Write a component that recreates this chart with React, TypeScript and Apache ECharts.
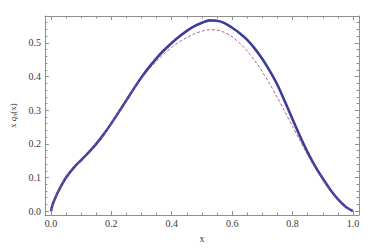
import React, { useEffect, useRef } from "react";
import * as echarts from "echarts";

const xs = [0, 0.005, 0.01, 0.025, 0.05, 0.075, 0.1, 0.125, 0.15, 0.175, 0.2, 0.225, 0.25, 0.275, 0.3, 0.325, 0.35, 0.375, 0.4, 0.425, 0.45, 0.475, 0.5, 0.525, 0.55, 0.575, 0.6, 0.625, 0.65, 0.675, 0.7, 0.725, 0.75, 0.775, 0.8, 0.825, 0.85, 0.875, 0.9, 0.925, 0.95, 0.975, 1.0];
const solidValues = [0, 0.018, 0.03, 0.06, 0.1, 0.129, 0.152, 0.175, 0.2, 0.229, 0.261, 0.295, 0.33, 0.365, 0.398, 0.428, 0.455, 0.479, 0.5, 0.519, 0.536, 0.55, 0.56, 0.567, 0.566, 0.559, 0.545, 0.529, 0.509, 0.483, 0.452, 0.416, 0.375, 0.325, 0.273, 0.222, 0.175, 0.133, 0.097, 0.064, 0.036, 0.014, 0];
const dashedValues = [0, 0.019, 0.031, 0.061, 0.102, 0.131, 0.154, 0.176, 0.201, 0.229, 0.261, 0.295, 0.33, 0.364, 0.395, 0.422, 0.446, 0.468, 0.487, 0.503, 0.516, 0.527, 0.535, 0.539, 0.538, 0.531, 0.518, 0.499, 0.476, 0.447, 0.414, 0.377, 0.337, 0.295, 0.252, 0.209, 0.167, 0.128, 0.094, 0.062, 0.035, 0.014, 0];

const xMajorTicks = [0, 0.2, 0.4, 0.6, 0.8, 1.0];
const xMinorTicks = [0.05, 0.1, 0.15, 0.25, 0.3, 0.35, 0.45, 0.5, 0.55, 0.65, 0.7, 0.75, 0.85, 0.9, 0.95];
const yMajorTicks = [0, 0.1, 0.2, 0.3, 0.4, 0.5];
const yMinorTicks = [0.02, 0.04, 0.06, 0.08, 0.12, 0.14, 0.16, 0.18, 0.22, 0.24, 0.26, 0.28, 0.32, 0.34, 0.36, 0.38, 0.42, 0.44, 0.46, 0.48, 0.52, 0.54, 0.56];

const X_MIN = -0.02, X_MAX = 1.02, Y_MIN = -0.0116, Y_MAX = 0.58;
const FRAME = "#8f8f8f";
const FONT = "Liberation Serif";

function makeAxis(kind: "x" | "y", position: string, major: boolean, labels: boolean, extra: any = {}) {
  const isX = kind === "x";
  return {
    type: "value",
    position,
    min: isX ? X_MIN : Y_MIN,
    max: isX ? X_MAX : Y_MAX,
    axisLine: { show: major, onZero: false, lineStyle: { color: FRAME, width: 1 } },
    axisTick: {
      show: true,
      inside: true,
      length: major ? 4 : 2.5,
      lineStyle: { color: FRAME, width: 1 },
      customValues: major ? (isX ? xMajorTicks : yMajorTicks) : (isX ? xMinorTicks : yMinorTicks),
    },
    axisLabel: labels
      ? {
          show: true,
          customValues: isX ? xMajorTicks : yMajorTicks,
          formatter: (v: number) => v.toFixed(1),
          fontFamily: FONT,
          fontSize: 10,
          color: "#3a3a3a",
          margin: isX ? 3 : 4,
        }
      : { show: false },
    splitLine: { show: false },
    ...extra,
  };
}

export default function App() {
  const ref = useRef<HTMLDivElement>(null);
  useEffect(() => {
    if (!ref.current) return;
    const chart = echarts.init(ref.current, undefined, { renderer: "svg" });
    const solid = xs.map((x, i) => [x, solidValues[i]]);
    const dashed = xs.map((x, i) => [x, dashedValues[i]]);
    chart.setOption({
      animation: false,
      grid: { left: 30, right: 16, top: 16, bottom: 29, containLabel: false },
      xAxis: [
        makeAxis("x", "bottom", true, true, {
          name: "x",
          nameLocation: "middle",
          nameGap: 14,
          nameTextStyle: { fontFamily: FONT, fontSize: 10, color: "#3a3a3a" },
        }),
        makeAxis("x", "bottom", false, false),
        makeAxis("x", "top", true, false),
        makeAxis("x", "top", false, false),
      ],
      yAxis: [
        makeAxis("y", "left", true, true, {
          name: "{n|x }{i|q}{s|π}{n|(x)}",
          nameLocation: "middle",
          nameGap: 21,
          nameTextStyle: {
            fontFamily: FONT,
            fontSize: 9,
            color: "#3a3a3a",
            rich: {
              n: { fontFamily: FONT, fontSize: 9, color: "#3a3a3a" },
              i: { fontFamily: FONT, fontSize: 9, fontStyle: "italic", color: "#3a3a3a" },
              s: { fontFamily: FONT, fontSize: 6, fontStyle: "italic", color: "#3a3a3a", verticalAlign: "bottom", padding: [4, 0, 0, 0] },
            },
          },
        }),
        makeAxis("y", "left", false, false),
        makeAxis("y", "right", true, false),
        makeAxis("y", "right", false, false),
      ],
      series: [
        {
          type: "line",
          data: solid,
          xAxisIndex: 0,
          yAxisIndex: 0,
          showSymbol: false,
          smooth: 0.3,
          lineStyle: { color: "#3d3d99", width: 2.6 },
        },
        {
          type: "line",
          data: dashed,
          xAxisIndex: 0,
          yAxisIndex: 0,
          showSymbol: false,
          smooth: 0.3,
          lineStyle: { color: "#a4508a", width: 1, type: [3, 2], opacity: 0.9 },
        },
      ],
    });
    return () => chart.dispose();
  }, []);
  return <div ref={ref} style={{ width: 375, height: 248, position: "absolute", left: 0, top: 0 }} />;
}
